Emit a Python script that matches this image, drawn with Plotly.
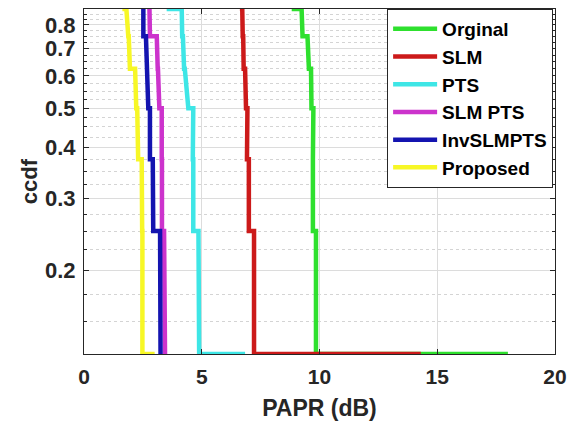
import numpy as np
import plotly.graph_objects as go

# CCDF levels (shared by all curves) – staircase path vertices
ccdf_levels = [0.875, 0.875, 0.75, 0.75, 0.625, 0.625, 0.5, 0.5,
               0.375, 0.375, 0.25, 0.25, 0.125, 0.125]

# PAPR (dB) at each vertex, per method
papr_orginal = [8.82, 9.24, 9.28, 9.49, 9.55, 9.64, 9.66, 9.74,
                9.72, 9.72, 9.72, 9.85, 9.85, 18.0]
papr_slm = [6.62, 6.72, 6.74, 6.76, 6.78, 6.84, 6.88, 6.94,
            6.92, 7.00, 7.00, 7.22, 7.22, 14.3]
papr_pts = [3.51, 4.15, 4.17, 4.20, 4.25, 4.28, 4.43, 4.64,
            4.62, 4.64, 4.64, 4.86, 4.89, 6.84]
papr_slm_pts = [2.74, 2.78, 2.80, 3.09, 3.13, 3.14, 3.20, 3.30,
                3.30, 3.31, 3.31, 3.40, 3.44, 3.50]
papr_invslmpts = [2.52, 2.52, 2.52, 2.63, 2.69, 2.70, 2.73, 2.80,
                  2.80, 2.92, 2.94, 3.23, 3.25, 3.30]
papr_proposed = [1.63, 1.80, 1.88, 1.90, 1.95, 2.17, 2.22, 2.26,
                 2.30, 2.45, 2.47, 2.48, 2.48, 3.00]

series_names = ["Orginal", "SLM", "PTS", "SLM PTS", "InvSLMPTS", "Proposed"]
series_x = [papr_orginal, papr_slm, papr_pts, papr_slm_pts, papr_invslmpts, papr_proposed]
series_colors = ["#2ee02e", "#cc1a1a", "#3ee6e6", "#cc33cc", "#1414b0", "#f7f726"]

x_ticks = [0, 5, 10, 15, 20]
y_ticks = [0.2, 0.3, 0.4, 0.5, 0.6, 0.7, 0.8]
y_minor = [round(v, 3) for v in np.arange(0.125, 0.8751, 0.025)
           if all(abs(v - t) > 1e-6 for t in y_ticks)]

fig = go.Figure()
for name, xs, col in zip(series_names, series_x, series_colors):
    fig.add_trace(go.Scatter(x=xs, y=ccdf_levels, mode="lines", name=name,
                             line=dict(color=col, width=4.5), cliponaxis=False))

axis_color = "#262626"
font_fam = "Liberation Sans, Arial, sans-serif"

# page body has an 8px margin, so the figure is sized/placed to compensate
fig.update_layout(
    width=570, height=417,
    margin=dict(l=76, r=23, t=1, b=71),
    paper_bgcolor="white", plot_bgcolor="white",
    font=dict(family=font_fam, color=axis_color),
    showlegend=True,
    legend=dict(x=0.996, y=1.0, xanchor="right", yanchor="top",
                bgcolor="white", bordercolor=axis_color, borderwidth=1,
                font=dict(size=19, family=font_fam, color="#000000", weight="bold"),
                tracegroupgap=0, itemwidth=44),
)

fig.update_xaxes(
    range=[0, 20], tickvals=x_ticks, ticks="inside", ticklen=5,
    tickcolor=axis_color, showline=True, linecolor=axis_color, linewidth=1,
    mirror="ticks", showgrid=True, gridcolor="#dcdcdc", gridwidth=1,
    zeroline=False, tickfont=dict(size=21, weight="bold", color=axis_color),
    ticklabelstandoff=4, automargin=False,
    title=dict(text="PAPR (dB)", font=dict(size=23, weight="bold", color=axis_color), standoff=12),
)
fig.update_yaxes(
    type="log", range=[np.log10(0.125), np.log10(0.875)],
    tickvals=y_ticks, ticktext=[str(v) for v in y_ticks],
    ticks="inside", ticklen=5, tickcolor=axis_color,
    showline=True, linecolor=axis_color, linewidth=1, mirror="ticks",
    showgrid=True, gridcolor="#dcdcdc", gridwidth=1, zeroline=False,
    tickfont=dict(size=22, weight="bold", color=axis_color),
    ticklabelstandoff=3, automargin=False,
    minor=dict(tickmode="array", tickvals=y_minor, ticks="inside", ticklen=3,
               tickcolor=axis_color, showgrid=True, gridcolor="#d4d4d4",
               griddash="dot", gridwidth=1),
    title=dict(text="ccdf", font=dict(size=22, weight="bold", color=axis_color), standoff=1),
)

fig.write_html("out.html")
